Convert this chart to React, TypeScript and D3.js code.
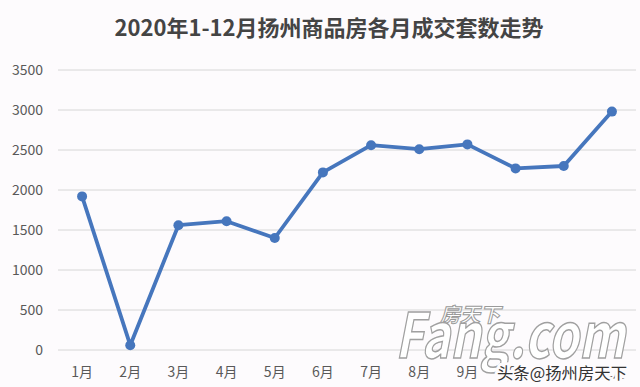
import React from "react";
import * as d3 from "d3";

const title = "2020年1-12月扬州商品房各月成交套数走势";
const months = ["1月", "2月", "3月", "4月", "5月", "6月", "7月", "8月", "9月", "10月", "11月", "12月"];
const deals = [1920, 60, 1560, 1610, 1400, 2220, 2560, 2510, 2570, 2270, 2300, 2980];
const yTicks = [0, 500, 1000, 1500, 2000, 2500, 3000, 3500];

const W = 640;
const H = 387;
const font = "'Noto Sans CJK SC', 'Noto Sans', sans-serif";

export default function App() {
  const x = d3.scaleBand<string>().domain(months).range([58, 636]);
  const y = d3.scaleLinear().domain([0, 3500]).range([350, 70]);
  const cx = (m: string) => (x(m) ?? 0) + x.bandwidth() / 2;
  const line = d3
    .line<number>()
    .x((_, i) => cx(months[i]))
    .y((d) => y(d));

  return (
    <svg
      width={W}
      height={H}
      style={{ position: "absolute", left: 0, top: 0, background: "#fdfbfd" }}
    >
      <rect width={W} height={H} fill="#fdfbfd" />
      <text
        x={329}
        y={36}
        textAnchor="middle"
        fontFamily={font}
        fontWeight={700}
        fontSize={22}
        fill="#444"
      >
        {title}
      </text>
      {yTicks.map((t) => (
        <g key={t}>
          <line x1={58} x2={636} y1={y(t)} y2={y(t)} stroke="#d6d6d6" strokeWidth={1} />
          <text
            x={43}
            y={y(t)}
            dy="0.36em"
            textAnchor="end"
            fontFamily={font}
            fontSize={14}
            fill="#595959"
          >
            {t}
          </text>
        </g>
      ))}
      {months.map((m) => (
        <text
          key={m}
          x={cx(m)}
          y={372}
          dy="0.36em"
          textAnchor="middle"
          fontFamily={font}
          fontSize={14}
          fill="#595959"
        >
          {m}
        </text>
      ))}
      <path
        d={line(deals) ?? ""}
        fill="none"
        stroke="#4676bd"
        strokeWidth={3.8}
        strokeLinejoin="round"
      />
      {deals.map((d, i) => (
        <circle key={i} cx={cx(months[i])} cy={y(d)} r={5} fill="#4676bd" />
      ))}
      {/* watermark */}
      <g fontFamily={font} fontStyle="italic">
        <text
          x={440}
          y={322}
          fontSize={20}
          fontWeight={700}
          fill="#ffffff"
          stroke="#9a9a9a"
          strokeWidth={1}
        >
          房天下
        </text>
        <text
          x={395}
          y={358}
          fontSize={62}
          fontWeight={700}
          fill="#ffffff"
          stroke="#a0a0a0"
          strokeWidth={1.5}
          textLength={230}
          lengthAdjust="spacingAndGlyphs"
        >
          Fang.com
        </text>
      </g>
      <text
        x={497}
        y={373}
        dy="0.36em"
        fontFamily={font}
        fontSize={16}
        fill="#333"
        stroke="#fdfbfd"
        strokeWidth={6}
        strokeLinejoin="round"
        paintOrder="stroke"
        textLength={130}
        lengthAdjust="spacingAndGlyphs"
      >
        头条@扬州房天下
      </text>
    </svg>
  );
}
